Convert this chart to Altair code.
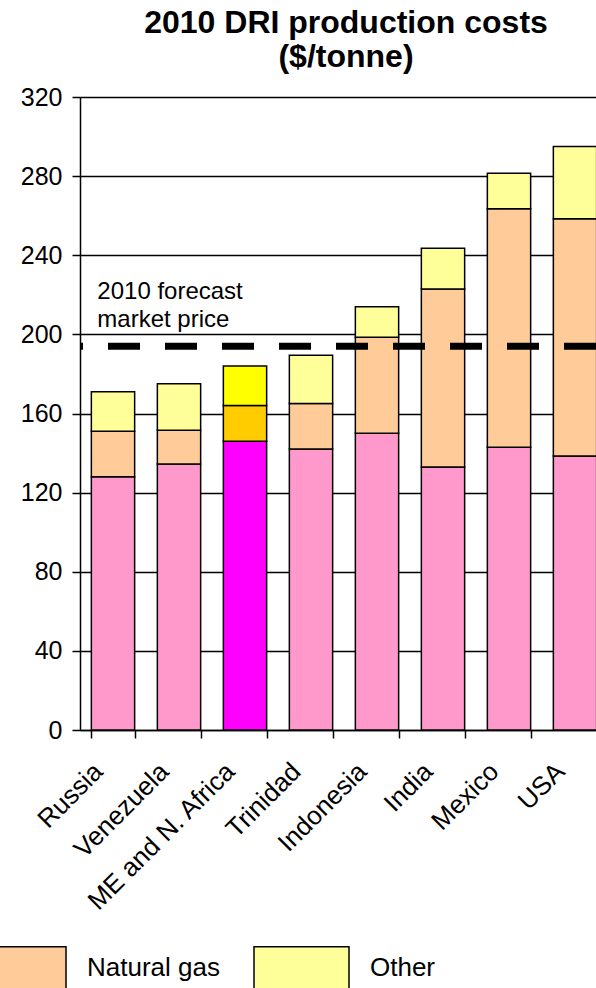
import altair as alt
import pandas as pd

# Cost build-up per producing region, $/tonne
countries = ["Russia", "Venezuela", "ME and N. Africa", "Trinidad",
             "Indonesia", "India", "Mexico", "USA"]
iron_ore = [128, 134.5, 146, 142, 150, 133, 143, 138.5]
natural_gas = [23, 17, 18, 23, 48.5, 90, 120.5, 120]
other = [20, 23.5, 20, 24.5, 15.5, 20.5, 18, 36.5]

components = ["Iron ore", "Natural gas", "Other"]
highlight = "ME and N. Africa"
market_price = 194
price_label = ["2010 forecast", "market price"]
y_ticks = [0, 40, 80, 120, 160, 200, 240, 280, 320]

base_colors = ["#FF99CC", "#FFCC99", "#FFFF99"]
highlight_colors = ["#FF00FF", "#FFCC00", "#FFFF00"]

rows = []
for i, country in enumerate(countries):
    for j, (comp, vals) in enumerate(zip(components, [iron_ore, natural_gas, other])):
        shade = comp + (" (highlight)" if country == highlight else "")
        rows.append({"country": country, "component": comp, "shade": shade,
                     "order": j, "cost": vals[i]})
df = pd.DataFrame(rows)
shade_domain = components + [c + " (highlight)" for c in components]

price_df = pd.DataFrame({"country": [countries[0]], "price": [market_price]})

FONT = "Liberation Sans"

x_enc = alt.X(
    "country:N", sort=countries, title=None,
    scale=alt.Scale(range=[0, 528], paddingInner=0.344, paddingOuter=0.172),
    axis=alt.Axis(labelAngle=-45, tickBand="extent", labelFontSize=26,
                  labelFont=FONT, labelColor="black", domainColor="black",
                  domainWidth=1.5, tickColor="black", tickWidth=1.5,
                  tickSize=8, labelPadding=20, labelOffset=-24, labelLimit=0),
)
y_enc = alt.Y(
    "cost:Q", stack="zero", title=None,
    scale=alt.Scale(domain=[0, 320], nice=False),
    axis=alt.Axis(values=y_ticks, grid=True, gridColor="black", gridWidth=1.3,
                  gridOpacity=1, labelFontSize=25, labelFont=FONT,
                  labelColor="black", domainColor="black", domainWidth=1.5,
                  tickColor="black", tickWidth=1.5, tickSize=8, labelPadding=10),
)

bars = alt.Chart(df).mark_bar(stroke="black", strokeWidth=1.5, opacity=1).encode(
    x=x_enc,
    y=y_enc,
    color=alt.Color(
        "shade:N",
        scale=alt.Scale(domain=shade_domain, range=base_colors + highlight_colors),
        legend=alt.Legend(
            values=components, orient="none", direction="horizontal",
            legendX=-350, legendY=822, title=None,
            symbolType="M-1,-0.442H1V0.442H-1Z", symbolSize=9025,
            symbolStrokeColor="black", symbolStrokeWidth=1.5, symbolOpacity=1,
            labelFontSize=26, labelFont=FONT, labelColor="black",
            labelOffset=20, columnPadding=31, labelLimit=0, padding=0,
        ),
    ),
    order=alt.Order("order:Q"),
)

price_line = alt.Chart(price_df).mark_rule(
    color="black", strokeWidth=7, strokeDash=[32, 25]
).encode(y=alt.Y("price:Q"))

price_text = alt.Chart(price_df).mark_text(
    align="left", baseline="alphabetic", fontSize=24, font=FONT,
    color="black", lineHeight=28, dx=6, dy=-47
).encode(
    x=alt.X("country:N", sort=countries, bandPosition=0),
    y=alt.Y("price:Q"),
    text=alt.value(price_label),
)

chart = alt.layer(bars, price_line, price_text).properties(
    width=516,
    height=633,
    padding={"left": 80, "top": 97, "right": 0, "bottom": 258},
    autosize=alt.AutoSizeParams(type="none"),
    title=alt.TitleParams(
        text=["2010 DRI production costs", "($/tonne)"],
        fontSize=32, font=FONT, fontWeight="bold", color="black",
        anchor="middle", offset=11, dx=8, lineHeight=34,
    ),
).configure_view(stroke=None).configure(background="white")

chart.save("out.html", embed_options={"renderer": "svg", "actions": False})
